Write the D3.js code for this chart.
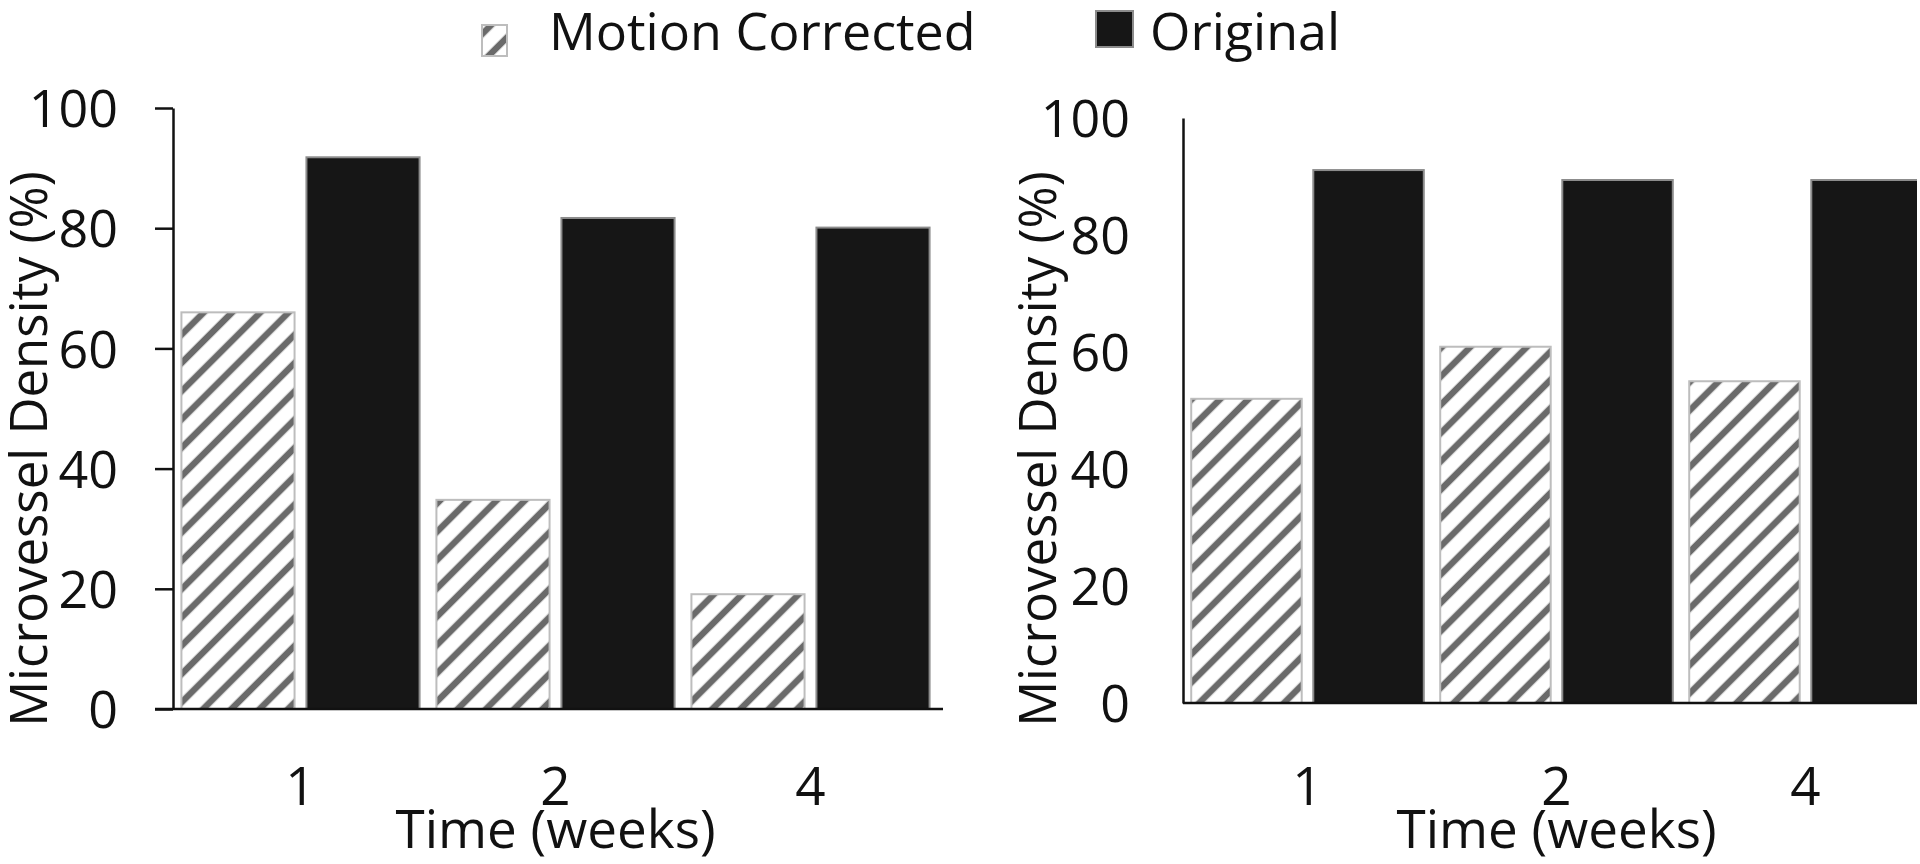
<!DOCTYPE html>
<html>
<head>
<meta charset="utf-8">
<script src="https://cdn.jsdelivr.net/npm/d3@7"></script>
<style>
body { margin: 0; background: #fff; }
svg { display: block; font-family: "Open Sans", sans-serif; }
</style>
</head>
<body>
<div class="chart-div"></div>
<script>
var weeks = ["1", "2", "4"];
var series = ["Motion Corrected", "Original"];
var yTicks = [0, 20, 40, 60, 80, 100];
// left panel
var leftMotion = [66.0, 34.8, 19.1];
var leftOriginal = [91.8, 81.7, 80.1];
// right panel
var rightMotion = [52.0, 60.9, 55.0];
var rightOriginal = [91.1, 89.4, 89.4];

var width = 1920, height = 864;

var svg = d3.select(".chart-div")
    .append("svg")
        .attr("width", width)
        .attr("height", height);

var defs = svg.append("defs");
//diagonal hatch used for the motion corrected bars
var hatch = defs.append("pattern")
    .attr("id", "hatch")
    .attr("patternUnits", "userSpaceOnUse")
    .attr("width", 20)
    .attr("height", 20)
    .attr("patternTransform", "rotate(45)");
hatch.append("rect")
    .attr("width", 20)
    .attr("height", 20)
    .attr("fill", "#fff");
hatch.append("line")
    .attr("x1", 5).attr("y1", 0)
    .attr("x2", 5).attr("y2", 20)
    .attr("stroke", "#6a6a6a")
    .attr("stroke-width", 6.5);

//the figure is cut off on the right side
defs.append("clipPath")
    .attr("id", "crop")
    .append("rect")
        .attr("x", 0).attr("y", 0)
        .attr("width", 1917).attr("height", height);

var fills = {"Motion Corrected": "url(#hatch)", "Original": "#161616"};
var strokes = {"Motion Corrected": "#bdbdbd", "Original": "#8c8c8c"};

var panels = [
    {x0: 173, x1: 938, y0: 709, y1: 108, tickLen: 18, labelRight: 118, titleX: 29,
     motion: leftMotion, original: leftOriginal},
    {x0: 1183, x1: 1930, y0: 703, y1: 118, tickLen: 0, labelRight: 1130, titleX: 1038,
     motion: rightMotion, original: rightOriginal}
];

var root = svg.append("g").attr("clip-path", "url(#crop)");
panels.forEach(function(p) { drawPanel(root, p); });
drawLegend(svg);

function drawPanel(g, p) {
    var x = d3.scaleBand()
        .domain(weeks)
        .range([p.x0, p.x1])
        .paddingInner(0.066)
        .paddingOuter(0.033);
    var xs = d3.scaleBand()
        .domain(series)
        .range([0, x.bandwidth()])
        .paddingInner(0.095);
    var y = d3.scaleLinear()
        .domain([0, 100])
        .range([p.y0, p.y1]);

    var rows = [];
    weeks.forEach(function(w, i) {
        rows.push({week: w, key: "Motion Corrected", value: p.motion[i]});
        rows.push({week: w, key: "Original", value: p.original[i]});
    });

    g.append("g").selectAll("rect")
        .data(rows)
        .enter().append("rect")
            .attr("x", function(d) { return x(d.week) + xs(d.key); })
            .attr("y", function(d) { return y(d.value); })
            .attr("width", xs.bandwidth())
            .attr("height", function(d) { return y(0) - y(d.value); })
            .attr("fill", function(d) { return fills[d.key]; })
            .attr("stroke", function(d) { return strokes[d.key]; })
            .attr("stroke-width", 2);

    //y axis
    var yAxis = g.append("g")
        .attr("transform", "translate(" + p.x0 + ",0)")
        .call(d3.axisLeft(y)
            .tickValues(yTicks)
            .tickSize(p.tickLen)
            .tickSizeOuter(0)
            .tickPadding(p.x0 - p.tickLen - p.labelRight));
    yAxis.select(".domain").attr("stroke", "#111").attr("stroke-width", 2.5);
    yAxis.selectAll(".tick line").attr("stroke", "#111").attr("stroke-width", 2.5);
    yAxis.selectAll("text")
        .attr("font-size", "52px")
        .attr("font-family", "Open Sans")
        .attr("fill", "#111")
        .attr("dy", "0.36em");

    //x axis: labels only, plus a base line
    var xAxis = g.append("g")
        .attr("transform", "translate(0," + p.y0 + ")")
        .call(d3.axisBottom(x).tickSize(0));
    xAxis.select(".domain").remove();
    xAxis.selectAll("text")
        .attr("font-size", "53px")
        .attr("font-family", "Open Sans")
        .attr("fill", "#111")
        .attr("dy", null)
        .attr("y", 805 - p.y0);

    g.append("line")
        .attr("x1", p.x0 - p.tickLen)
        .attr("x2", p.x1 + 5)
        .attr("y1", y(0))
        .attr("y2", y(0))
        .attr("stroke", "#111")
        .attr("stroke-width", 2.5);

    g.append("text")
        .attr("x", (p.x0 + p.x1) / 2)
        .attr("y", 848)
        .attr("text-anchor", "middle")
        .attr("font-size", "53px")
        .attr("fill", "#111")
        .text("Time (weeks)");

    g.append("text")
        .attr("transform", "translate(" + p.titleX + ",449) rotate(-90)")
        .attr("dy", "0.36em")
        .attr("text-anchor", "middle")
        .attr("font-size", "51px")
        .attr("fill", "#111")
        .text("Microvessel Density (%)");
}

function drawLegend(svg) {
    var items = [
        {key: "Motion Corrected", x: 482, y: 25, w: 25, h: 31, tx: 549},
        {key: "Original", x: 1096, y: 11, w: 37, h: 36, tx: 1150}
    ];
    var lg = svg.append("g").selectAll("g")
        .data(items)
        .enter().append("g");
    lg.append("rect")
        .attr("x", function(d) { return d.x; })
        .attr("y", function(d) { return d.y; })
        .attr("width", function(d) { return d.w; })
        .attr("height", function(d) { return d.h; })
        .attr("fill", function(d) { return fills[d.key]; })
        .attr("stroke", function(d) { return strokes[d.key]; })
        .attr("stroke-width", 2);
    lg.append("text")
        .attr("x", function(d) { return d.tx; })
        .attr("y", 50)
        .attr("font-size", "52px")
        .attr("fill", "#111")
        .text(function(d) { return d.key; });
}
</script>
</body>
</html>
